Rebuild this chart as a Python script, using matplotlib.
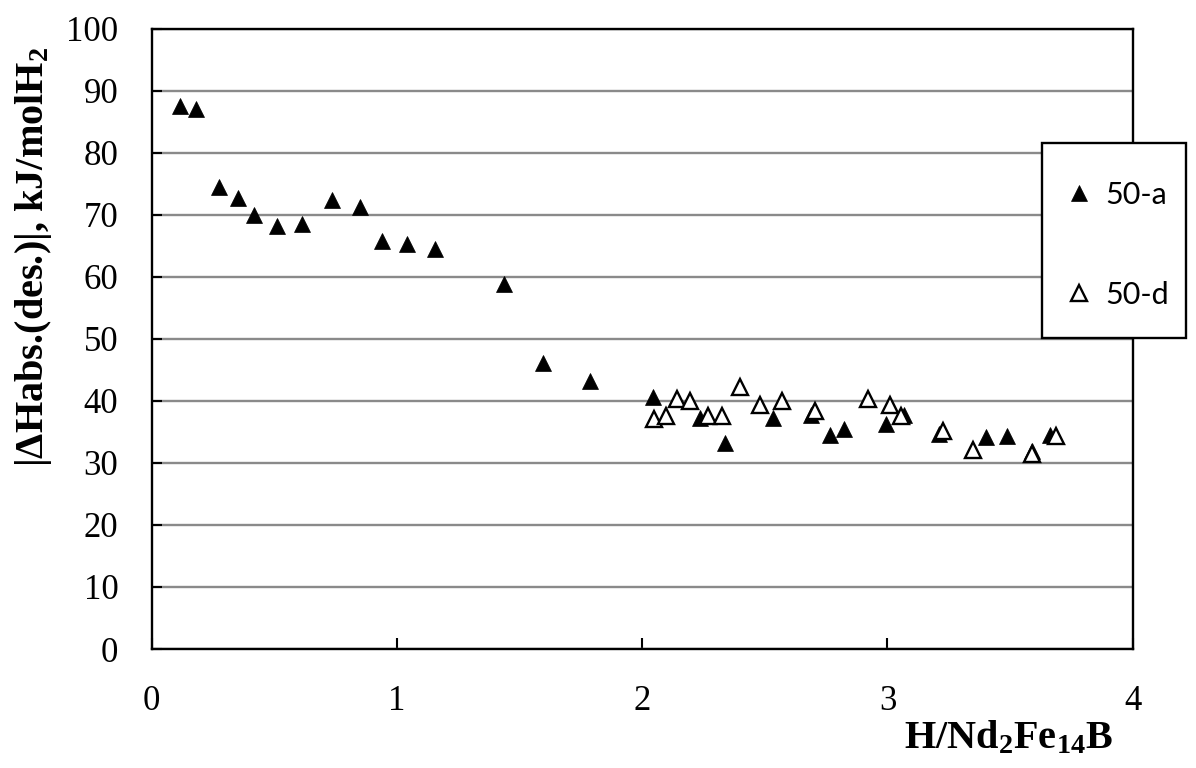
import matplotlib
matplotlib.use("Agg")
import matplotlib.pyplot as plt
from matplotlib.patches import Rectangle

plt.rcParams['mathtext.fontset'] = 'custom'
plt.rcParams['mathtext.rm'] = 'Liberation Serif:bold'
plt.rcParams['mathtext.bf'] = 'Liberation Serif:bold'
plt.rcParams['mathtext.default'] = 'rm'

# 50-a (filled triangles)
a_x = [0.114, 0.182, 0.273, 0.350, 0.419, 0.509, 0.611, 0.736, 0.849, 0.939,
       1.040, 1.154, 1.435, 1.595, 1.787, 2.044, 2.237, 2.339, 2.532, 2.690,
       2.767, 2.824, 2.995, 3.069, 3.210, 3.400, 3.486, 3.590, 3.661]
a_y = [87.5, 87.0, 74.5, 72.7, 70.0, 68.1, 68.5, 72.3, 71.3, 65.8,
       65.3, 64.4, 58.8, 46.1, 43.2, 40.6, 37.2, 33.2, 37.2, 37.7,
       34.5, 35.5, 36.3, 37.7, 34.7, 34.1, 34.4, 31.9, 34.5]

# 50-d (open triangles)
d_x = [2.050, 2.098, 2.141, 2.196, 2.268, 2.325, 2.400, 2.482, 2.570, 2.706,
       2.920, 3.009, 3.057, 3.227, 3.350, 3.590, 3.688]
d_y = [37.1, 37.6, 40.3, 39.9, 37.6, 37.6, 42.2, 39.4, 39.9, 38.4,
       40.3, 39.4, 37.6, 35.2, 32.0, 31.5, 34.4]

x_ticks = [0, 1, 2, 3, 4]
y_ticks = [0, 10, 20, 30, 40, 50, 60, 70, 80, 90, 100]

W, H = 1196, 768
fig = plt.figure(figsize=(W / 100, H / 100), dpi=100)
ax = fig.add_axes([151.7 / W, 1 - 649 / H, (1132.7 - 151.7) / W, (649 - 28.5) / H])

ax.plot(a_x, a_y, linestyle='none', marker='^', markersize=11,
        markerfacecolor='black', markeredgecolor='black', markeredgewidth=0.5,
        label='50-a', zorder=3, clip_on=False)
ax.plot(d_x, d_y, linestyle='none', marker='^', markersize=11.5,
        markerfacecolor='white', markeredgecolor='black', markeredgewidth=1.7,
        label='50-d', zorder=3, clip_on=False)

ax.set_xlim(0, 4)
ax.set_ylim(0, 100)
ax.set_xticks(x_ticks)
ax.set_yticks(y_ticks)
ax.set_xticklabels([str(v) for v in x_ticks], family='Liberation Serif', fontsize=25)
ax.set_yticklabels([str(v) for v in y_ticks], family='Liberation Serif', fontsize=25)
ax.tick_params(axis='x', direction='in', length=8, width=1.5, pad=26)
ax.tick_params(axis='y', direction='in', length=7, width=1.5, pad=24)
ax.grid(axis='y', color='#8a8a8a', linewidth=1.7)
ax.set_axisbelow(True)
for s in ax.spines.values():
    s.set_linewidth(1.7)
    s.set_color('black')

fig.text(1113 / W, 1 - 748 / H, r'H/Nd$_2$Fe$_{14}$B', ha='right', va='baseline',
         family='Liberation Serif', weight='bold', fontsize=29)
fig.text(34 / W, 1 - 47 / H, r'|ΔHabs.(des.)|, kJ/molH$_2$', ha='center', va='top',
         rotation=90, family='Liberation Serif', weight='bold', fontsize=29)

# legend box
rect = Rectangle((1042 / W, 1 - 338 / H), (1186 - 1042) / W, (338 - 143) / H,
                 transform=fig.transFigure, facecolor='white', edgecolor='black',
                 linewidth=1.7, zorder=4)
fig.patches.append(rect)
leg = fig.legend(loc='upper left', bbox_to_anchor=(1064 / W, 1 - 181 / H),
                 frameon=False, prop={'family': 'Lato', 'size': 22},
                 handlelength=1.0, handletextpad=0.35, labelspacing=2.35,
                 borderpad=0, borderaxespad=0)
leg.set_zorder(5)

fig.savefig('out.png', dpi=100)
